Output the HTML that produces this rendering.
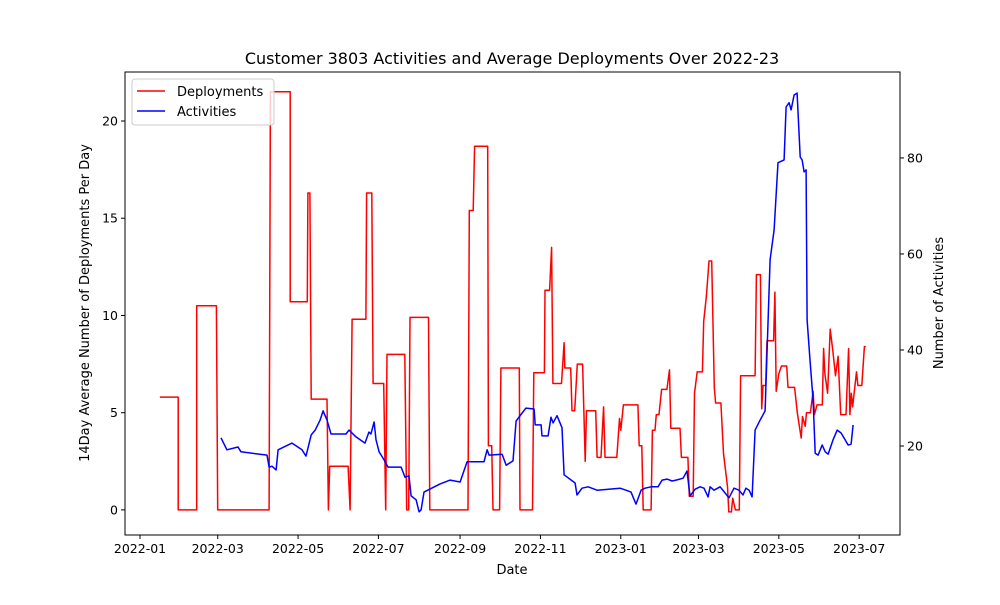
<!DOCTYPE html>
<html><head><meta charset="utf-8"><style>
body{margin:0;background:#fff;}
svg text{font-family:"DejaVu Sans","Liberation Sans",sans-serif;}
</style></head><body>
<svg id="chart" width="1000" height="600" xmlns="http://www.w3.org/2000/svg"></svg>
<script>
const xTickLabels=["2022-01","2022-03","2022-05","2022-07","2022-09","2022-11","2023-01","2023-03","2023-05","2023-07"];
const xTickDays=[0,59,120,181,243,304,365,424,485,546];
const leftTicks=[0,5,10,15,20];
const rightTicks=[20,40,60,80];
const depDays=[15,29,29,43,43,58,59,98,99,114,114,127,127.5,129,130,142,143,144,158,159.5,161,171.5,172,176,177,185,186.5,187.5,201,202.5,204,205,219,220,249,250,253,254,264,264.5,267,268,273,274,288,288.5,298,299,307,307.5,311,312.5,313.5,320,322,322.5,327,328,330,332,336,338,339,346,347,350,352,353,362,364,365,367,378,379,381,382,388,389,391,392,394,396,400,402,403,408,410,411,416,417,420,421,423,427,428,430,432,434,436,437,441,443,446,447,449,450,452,455,456,467,468,471,472,473,475,476,481,482,483,485,487,491,492,497,499,502,503,505,506,509,511,512,514,518,519,520,522,524,526,528,530,532,536,538,539,540,541,544,545,548,550,551];
const depVals=[5.8,5.8,0,0,10.5,10.5,0,0,21.5,21.5,10.7,10.7,16.3,16.3,5.7,5.7,0,2.25,2.25,0,9.8,9.8,16.3,16.3,6.5,6.5,0,8,8,0,0,9.9,9.9,0,0,15.4,15.4,18.7,18.7,3.3,3.3,0,0,7.3,7.3,0,0,7.05,7.05,11.3,11.3,13.5,6.5,6.5,8.6,7.3,7.3,5.1,5.1,7.5,7.5,2.5,5.1,5.1,2.7,2.7,5.3,2.7,2.7,4.7,4.1,5.4,5.4,3.3,3.3,0,0,4.1,4.1,4.9,4.9,6.2,6.2,7.2,4.2,4.2,4.2,2.7,2.7,0.7,0.7,6,7.1,7.1,9.7,11,12.8,12.8,6.3,5.5,5.5,2.9,1.2,-0.1,-0.1,0.6,0,0,6.9,6.9,12.1,12.1,5.2,6.4,6.4,8.7,8.7,11.2,6.1,7,7.4,7.4,6.3,6.3,5,3.7,4.8,4.3,5,5,6.1,4.9,5.4,5.4,8.3,7,6,9.3,8.2,6.9,7.9,4.9,4.9,8.3,4.9,6,5.3,7.1,6.4,6.4,8.4,8.4];
const actDays=[61.5,66,74.4,76.7,96.4,98,100.2,103.3,104.8,115.4,123,126,130,133,136.7,139,142,145,156.4,158.7,164,170.8,173.8,175.3,177.7,179.2,181.5,185.3,188.3,198.2,201.2,204.2,205.8,209.6,211.9,213.4,215.6,227.8,235.4,243,248.3,261.2,263.5,265,274.9,278,283.2,285.5,293,299.2,300,304.5,305.2,309.8,312,313.6,316.6,320.4,322,330.3,331.8,335.6,340.2,347,364.5,369,372.8,376.6,380.4,383.4,388,393.3,396.4,400.2,404,407,412.3,415.3,417.6,421.4,425.2,428.2,431.3,432.8,435.8,440.4,444.2,447.2,451,454.8,457.8,460,462.4,464.7,467,470.8,474.6,478.4,481.4,484.4,489,490.5,492.8,494.3,496.6,498.9,501.2,502.7,504.2,505.7,506.5,508.7,511,512.6,514.8,517.9,520.2,522.4,526.2,529.3,532.3,535.3,537.6,539.9,541.4];
const actVals=[21.7,19.2,19.8,18.8,18.1,15.6,15.8,15,19.2,20.6,19.2,17.9,22.3,23.3,25.4,27.3,25.4,22.5,22.5,23.3,21.9,20.6,22.9,22.5,25,21.3,18.8,17.1,15.6,15.6,13.5,13.8,9.6,8.8,6.3,6.7,10.4,12.1,12.9,12.5,16.7,16.7,19.2,18.1,18.3,16,16.9,25.2,27.9,27.7,24.4,24.4,22.1,22.1,26,24.8,26.3,23.8,14,12.3,9.8,11.2,11.5,10.8,11.2,10.8,10.4,7.9,10.8,11.2,11.5,11.5,12.9,13.1,12.7,12.9,13.3,14.8,9.6,11,11.5,11.2,9.4,11.5,10.8,11.5,10.2,9.2,11.2,10.8,9.8,11.2,10.8,9.4,23.3,25.4,27.3,58.8,65,79,79.6,90.6,91.5,90,93.1,93.5,80.2,79.6,77.1,77.5,46.3,37.9,29.6,18.5,18.1,20.2,18.8,18.3,21.3,23.3,22.7,21.3,20.2,20.4,24.4];

const NS="http://www.w3.org/2000/svg";
const svg=document.getElementById('chart');
const L=125,R=900,T=72,B=535;
const xMin=-11.4,xMax=577, lMin=-1.29,lMax=22.52, rMin=1.46,rMax=97.9;
const xs=d=>L+(d-xMin)/(xMax-xMin)*(R-L);
const yl=v=>B-(v-lMin)/(lMax-lMin)*(B-T);
const yr=v=>B-(v-rMin)/(rMax-rMin)*(B-T);
function mk(tag,attrs,parent){const e=document.createElementNS(NS,tag);for(const k in attrs)e.setAttribute(k,attrs[k]);(parent||svg).appendChild(e);return e;}
function txt(s,x,y,anchor,size,parent){const t=mk('text',{x:x,y:y,'text-anchor':anchor,'font-size':size,fill:'#000'},parent);t.textContent=s;return t;}

const title=txt("Customer 3803 Activities and Average Deployments Over 2022-23",512,64,'middle',16);



const gx=mk('g',{});


xTickDays.forEach((d,i)=>{const x=xs(d);mk('line',{x1:x,x2:x,y1:B,y2:B+4,stroke:'#000'},gx);txt(xTickLabels[i],x,B+18,'middle',12.5,gx);});
const xt=txt("Date",512,574,'middle',13);



const gl=mk('g',{});


leftTicks.forEach(v=>{const y=yl(v);mk('line',{x1:L-4,x2:L,y1:y,y2:y,stroke:'#000'},gl);txt(String(v),L-7,y+4.5,'end',12.5,gl);});
const lt=txt("14Day Average Number of Deployments Per Day",0,0,'middle',13);
lt.setAttribute('transform','translate(89,303) rotate(-90)');



const gr=mk('g',{});


rightTicks.forEach(v=>{const y=yr(v);mk('line',{x1:R,x2:R+4,y1:y,y2:y,stroke:'#000'},gr);txt(String(v),R+7,y+4.5,'start',12.5,gr);});
const rt=txt("Number of Activities",0,0,'middle',13);
rt.setAttribute('transform','translate(943,303) rotate(-90)');



const dp=mk('path',{d:depDays.map((d,i)=>(i?'L':'M')+xs(d).toFixed(1)+','+yl(depVals[i]).toFixed(1)).join(''),fill:'none',stroke:'#ff0000','stroke-width':1.5,'stroke-linejoin':'round'});


const ap=mk('path',{d:actDays.map((d,i)=>(i?'L':'M')+xs(d).toFixed(1)+','+yr(actVals[i]).toFixed(1)).join(''),fill:'none',stroke:'#0000ff','stroke-width':1.5,'stroke-linejoin':'round'});



const frame=mk('rect',{x:L,y:T,width:R-L,height:B-T,fill:'none',stroke:'#000','stroke-width':1});



const lg=mk('g',{});


mk('rect',{x:132,y:79,width:142,height:46,rx:3,fill:'#fff','fill-opacity':0.8,stroke:'#ccc'},lg);
mk('line',{x1:137,x2:165,y1:91,y2:91,stroke:'#ff0000','stroke-width':1.5},lg);
txt("Deployments",177,96,'start',13,lg);
mk('line',{x1:137,x2:165,y1:111,y2:111,stroke:'#0000ff','stroke-width':1.5},lg);
txt("Activities",177,116,'start',13,lg);
</script>
</body></html>
